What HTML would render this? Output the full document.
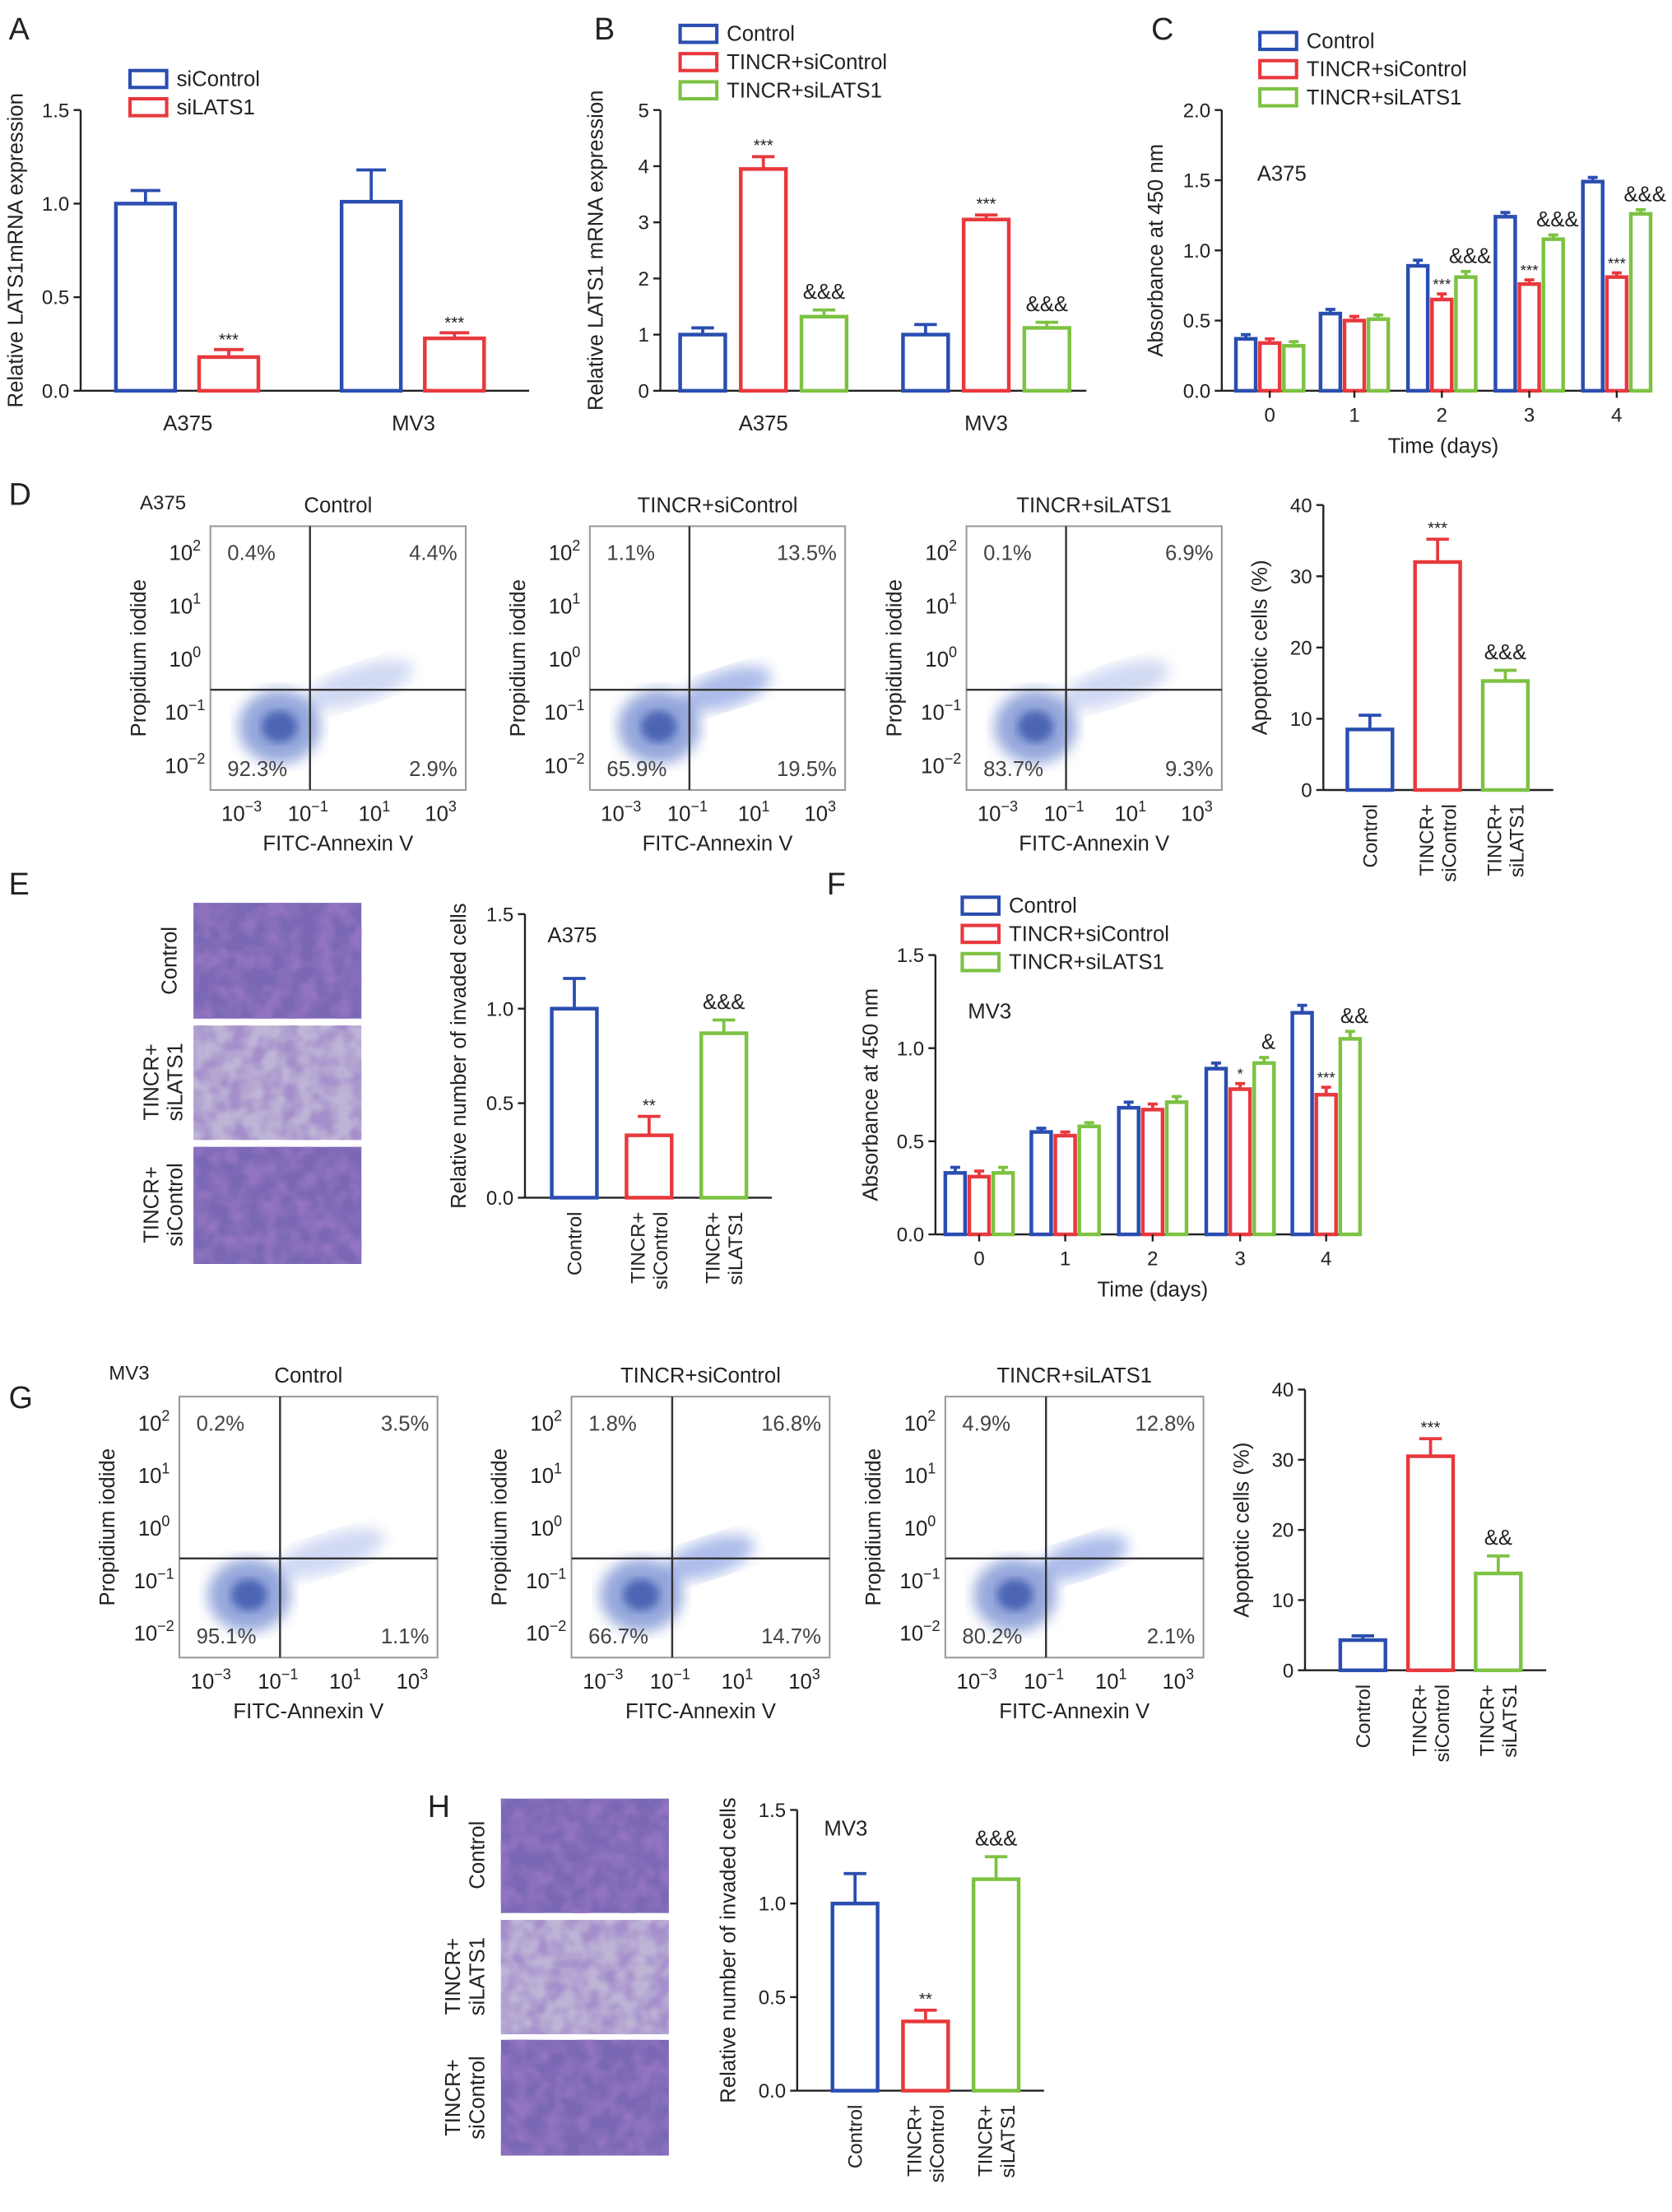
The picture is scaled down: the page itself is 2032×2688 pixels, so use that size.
<!DOCTYPE html>
<html><head><meta charset="utf-8">
<style>
html,body{margin:0;padding:0;background:#fff;}
svg{display:block;font-family:"Liberation Sans",Arial,sans-serif;}
</style></head>
<body>
<svg id="fig" width="2032" height="2688" viewBox="0 0 1185 1568" xmlns="http://www.w3.org/2000/svg">
<defs>
<filter id="blur3"><feGaussianBlur stdDeviation="5"/></filter>
<filter id="blur2"><feGaussianBlur stdDeviation="3"/></filter>
<filter id="tex" x="0" y="0" width="1" height="1"><feTurbulence type="fractalNoise" baseFrequency="0.08" numOctaves="2" seed="4"/><feColorMatrix values="0 0 0 0 0.3  0 0 0 0 0.18  0 0 0 0 0.55  0 0 0 -2.6 1.7"/></filter>
</defs>
<g id="root"></g>
</svg>
<script>
// ---- DATA ----
const colors = ["#2a4db0","#e8383d","#7dc242"];
const aCats = ["A375","MV3"];
const aSiControl = [1.0, 1.01];
const aSiControlErr = [0.07, 0.17];
const aSiLATS1 = [0.18, 0.28];
const aSiLATS1Err = [0.04, 0.03];
const aTicks = [0, 0.5, 1.0, 1.5];

const bCats = ["A375","MV3"];
const bControl = [1.0, 1.0];
const bControlErr = [0.12, 0.18];
const bTincrSiControl = [3.95, 3.05];
const bTincrSiControlErr = [0.22, 0.08];
const bTincrSiLATS1 = [1.32, 1.12];
const bTincrSiLATS1Err = [0.12, 0.1];
const bTicks = [0,1,2,3,4,5];

const cDays = ["0","1","2","3","4"];
const cControl = [0.37,0.55,0.89,1.24,1.49];
const cTincrSiControl = [0.34,0.5,0.65,0.76,0.81];
const cTincrSiLATS1 = [0.32,0.51,0.81,1.08,1.26];
const cErr = [0.03,0.03,0.04,0.03,0.03];
const cTicks = [0,0.5,1.0,1.5,2.0];

const dApoptotic = [8.5, 32, 15.3];
const dApoptoticErr = [2, 3.2, 1.5];
const dTicks = [0,10,20,30,40];

const eInvaded = [1.0, 0.33, 0.87];
const eInvadedErr = [0.16, 0.1, 0.07];
const eTicks = [0,0.5,1.0,1.5];

const fDays = ["0","1","2","3","4"];
const fControl = [0.33,0.55,0.68,0.89,1.19];
const fTincrSiControl = [0.31,0.53,0.67,0.78,0.75];
const fTincrSiLATS1 = [0.33,0.58,0.71,0.92,1.05];
const fErr = [0.03,0.02,0.03,0.03,0.04];
const fTicks = [0,0.5,1.0,1.5];

const gApoptotic = [4.3, 30.5, 13.8];
const gApoptoticErr = [0.6, 2.5, 2.5];
const gTicks = [0,10,20,30,40];

const hInvaded = [1.0, 0.37, 1.13];
const hInvadedErr = [0.16, 0.06, 0.12];
const hTicks = [0,0.5,1.0,1.5];

const flowD = [["0.4%","4.4%","92.3%","2.9%"],["1.1%","13.5%","65.9%","19.5%"],["0.1%","6.9%","83.7%","9.3%"]];
const flowG = [["0.2%","3.5%","95.1%","1.1%"],["1.8%","16.8%","66.7%","14.7%"],["4.9%","12.8%","80.2%","2.1%"]];
const groupNames = ["Control","TINCR+siControl","TINCR+siLATS1"];

// ---- HELPERS ----
const NS="http://www.w3.org/2000/svg";
const root=document.getElementById('root');
function el(tag,attrs,parent,text){const e=document.createElementNS(NS,tag);for(const k in attrs)e.setAttribute(k,attrs[k]);if(text!==undefined)e.textContent=text;(parent||root).appendChild(e);return e;}
function txt(x,y,s,size,name,anchor,parent,extra){const t=el('text',Object.assign({x:x,y:y,'font-size':size,'text-anchor':anchor||'middle',fill:'#222'},extra||{}),parent,s);


return t;}
function supText(x,y,base,exp,size,name,parent){const t=el('text',{x:x,y:y,'font-size':size,'text-anchor':'middle',fill:'#222'},parent);


el('tspan',{},t,base);el('tspan',{dy:-size*0.45,'font-size':size*0.7},t,exp);return t;}

function axisY(g,x,y0,y1,vmax,ticks,fmt,label,labelX){
  const sc=v=>y0-(v/vmax)*(y0-y1);
  const ax=el('line',{x1:x,y1:y0,x2:x,y2:sc(ticks[ticks.length-1]),stroke:'#222','stroke-width':1.4},g);
  
  
  ticks.forEach(v=>{el('line',{x1:x-5,x2:x,y1:sc(v),y2:sc(v),stroke:'#222','stroke-width':1.4},g);
    txt(x-8,sc(v)+5,fmt(v),14,'y-tick-label','end',g);});
  txt(0,0,label,15,'y-axis-title','middle',g,{transform:`translate(${labelX},${(y0+sc(ticks[ticks.length-1]))/2}) rotate(-90)`});
  return sc;
}
function bar(g,x,w,y0,ytop,err,sc,color,name){
  const r=el('rect',{x:x,y:ytop,width:w,height:y0-ytop,fill:'#fff',stroke:color,'stroke-width':2.6},g);
  
  
  const ye=ytop-err;
  el('line',{x1:x+w/2,x2:x+w/2,y1:ytop,y2:ye,stroke:color,'stroke-width':2.2},g);
  el('line',{x1:x+w/2-w*0.25,x2:x+w/2+w*0.25,y1:ye,y2:ye,stroke:color,'stroke-width':2.2},g);
  return ye;
}
function legend(g,x,y,items,size){
  items.forEach((s,i)=>{const r=el('rect',{x:x,y:y+i*20-11,width:26,height:12,fill:'#fff',stroke:colors[i],'stroke-width':2.4},g);
    
    
    txt(x+33,y+i*20,s,size||15,'legend-entry','start',g);});
}
function panelLabel(x,y,s){txt(x,y,s,22,'panel-label-'+s.toLowerCase(),'start');}
const fmt1=v=>v.toFixed(1), fmt0=v=>String(v);

// ---- PANEL A ----
panelLabel(6,28,"A");
(function(){
  const g=el('g',{});
  const y0=277,sc=axisY(g,57,y0,78,1.5,aTicks,fmt1,"Relative LATS1mRNA expression",16);
  el('line',{x1:57,x2:375,y1:y0,y2:y0,stroke:'#222','stroke-width':1.4},g);
  const gx=[82,242];
  aCats.forEach((c,i)=>{
    bar(g,gx[i],42,y0,sc(aSiControl[i]),sc(0)-sc(aSiControlErr[i]),sc,colors[0],'bar-sicontrol-'+c);
    const ye=bar(g,gx[i]+59,42,y0,sc(aSiLATS1[i]),sc(0)-sc(aSiLATS1Err[i]),sc,colors[1],'bar-silats1-'+c);
    txt(gx[i]+80,ye-3,"***",12,'significance-mark','middle',g);
    txt(gx[i]+51,305,c,15,'x-tick-label','middle',g);
  });
  legend(g,92,61,["siControl","siLATS1"]);
})();

// ---- PANEL B ----
panelLabel(421,28,"B");
(function(){
  const g=el('g',{});
  const y0=277,sc=axisY(g,468,y0,78,5,bTicks,fmt0,"Relative LATS1 mRNA expression",427);
  el('line',{x1:468,x2:770,y1:y0,y2:y0,stroke:'#222','stroke-width':1.4},g);
  const gx=[482,640];
  bCats.forEach((c,i)=>{
    const series=[[bControl,bControlErr],[bTincrSiControl,bTincrSiControlErr],[bTincrSiLATS1,bTincrSiLATS1Err]];
    series.forEach((s,k)=>{
      const ye=bar(g,gx[i]+k*43,32,y0,sc(s[0][i]),y0-sc(s[1][i]),sc,colors[k],'bar-'+k+'-'+c);
      if(k==1)txt(gx[i]+k*43+16,ye-4,"***",12,'significance-mark','middle',g);
      if(k==2)txt(gx[i]+k*43+16,ye-8,"&&&",15,'significance-mark','middle',g);
    });
    txt(gx[i]+59,305,c,15,'x-tick-label','middle',g);
  });
  legend(g,482,29,["Control","TINCR+siControl","TINCR+siLATS1"]);
})();

// ---- grouped-by-day chart (C, F) ----
function dayChart(name,ax,y0,ytop,vmax,ticks,centers,series,err,marks,title,lx,ly,axEnd,labX){
  const g=el('g',{});
  const sc=axisY(g,ax,y0,ytop,vmax,ticks,fmt1,"Absorbance at 450 nm",labX);
  el('line',{x1:ax,x2:axEnd,y1:y0,y2:y0,stroke:'#222','stroke-width':1.4},g);
  centers.forEach((cx,i)=>{
    series.forEach((s,k)=>{
      const x=cx-24+k*17;
      const ye=bar(g,x,14,y0,sc(s[i]),y0-sc(err[i]),sc,colors[k],'bar-day'+i+'-'+k);
      const m=marks[k][i];
      if(m){ if(k==1) txt(x+7,ye-3,m,11,'significance-mark','middle',g);
             else txt(x+10,ye-6,m,15,'significance-mark','middle',g);}
    });
    el('line',{x1:cx,x2:cx,y1:y0,y2:y0+5,stroke:'#222','stroke-width':1.4},g);
    txt(cx,y0+22,String(i),14,'x-tick-label','middle',g);
  });
  txt((centers[0]+centers[centers.length-1])/2,y0+44,"Time (days)",15,'x-axis-title','middle',g);
  txt(lx,ly,title,15,'cell-line-label','start',g);
  return g;
}
panelLabel(816,28,"C");
(function(){
  const g=dayChart('panel-c-chart',866,277,78,2.0,cTicks,[900,960,1022,1084,1146],[cControl,cTincrSiControl,cTincrSiLATS1],cErr,
    [[0,0,0,0,0],["","","***","***","***"],["","","&&&","&&&","&&&"]],"A375",891,128,1170,824);
  legend(g,893,34,["Control","TINCR+siControl","TINCR+siLATS1"]);
})();
panelLabel(586,634,"F");
(function(){
  const g=dayChart('panel-f-chart',663,875,677,1.5,fTicks,[694,755,817,879,940],[fControl,fTincrSiControl,fTincrSiLATS1],fErr,
    [[0,0,0,0,0],["","","","*","***"],["","","","&","&&"]],"MV3",686,722,962,622);
  legend(g,682,647,["Control","TINCR+siControl","TINCR+siLATS1"]);
})();

// ---- small 3-bar chart (D, E, G, H) ----
function triChart(name,ax,y0,ytop,vmax,ticks,fmt,vals,errs,marks,ylabel,labX,x0,step,title,tx,ty){
  const g=el('g',{});
  const sc=axisY(g,ax,y0,ytop,vmax,ticks,fmt,ylabel,labX);
  el('line',{x1:ax,x2:x0+2*step+50,y1:y0,y2:y0,stroke:'#222','stroke-width':1.4},g);
  vals.forEach((v,i)=>{
    const x=x0+i*step;
    const ye=bar(g,x,32,y0,sc(v),y0-sc(errs[i]),sc,colors[i],'bar-'+groupNames[i].toLowerCase().replace('+','-'));
    if(marks[i]){ if(i==1) txt(x+16,ye-4,marks[i],12,'significance-mark','middle',g);
      else txt(x+16,ye-8,marks[i],15,'significance-mark','middle',g);}
    const cx=x+16;
    const lines=i==0?["Control"]:["TINCR+",i==1?"siControl":"siLATS1"];
    lines.forEach((s,j)=>{
      const off=(j-(lines.length-1)/2)*16;
      txt(0,0,s,14,'x-tick-label','end',g,{transform:`translate(${cx+5+off},${y0+10}) rotate(-90)`});
    });
  });
  if(title) txt(tx,ty,title,15,'cell-line-label','start',g);
}
panelLabel(6,358,"D");
triChart('panel-d-chart',938,560,358,40,dTicks,fmt0,dApoptotic,dApoptoticErr,["","***","&&&"],"Apoptotic cells (%)",898,955,48);
panelLabel(6,634,"E");
triChart('panel-e-chart',372,849,648,1.5,eTicks,fmt1,eInvaded,eInvadedErr,["","**","&&&"],"Relative number of invaded cells",330,391,53,"A375",388,668);
panelLabel(6,998,"G");
triChart('panel-g-chart',925,1184,985,40,gTicks,fmt0,gApoptotic,gApoptoticErr,["","***","&&"],"Apoptotic cells (%)",885,950,48);
panelLabel(303,1288,"H");
triChart('panel-h-chart',565,1482,1283,1.5,hTicks,fmt1,hInvaded,hInvadedErr,["","**","&&&"],"Relative number of invaded cells",521,590,50,"MV3",584,1301);

// ---- FLOW PLOTS ----
function flow(name,bx,by,bw,bh,title,pcts,cell,tight){
  const g=el('g',{});
  const vx=bx+bw*0.39, hy=by+bh*0.62;
  el('ellipse',{cx:vx-bw*0.12,cy:hy+bh*0.14,rx:bw*0.16,ry:bh*0.14,fill:'#2a50b8',opacity:0.5,filter:'url(#blur3)'},g);
  el('ellipse',{cx:vx-bw*0.12,cy:hy+bh*0.14,rx:bw*0.07,ry:bh*0.06,fill:'#1a3a9a',opacity:0.6,filter:'url(#blur2)'},g);
  el('ellipse',{cx:vx+bw*(tight?0.15:0.2),cy:hy-bh*0.02,rx:bw*(tight?0.18:0.22),ry:bh*0.07,fill:'#4a6ad0',opacity:tight?0.45:0.25,filter:'url(#blur3)',transform:`rotate(-18 ${vx+bw*0.2} ${hy})`},g);
  const box=el('rect',{x:bx,y:by,width:bw,height:bh,fill:'none',stroke:'#999','stroke-width':1.2},g);
  
  el('line',{x1:vx,x2:vx,y1:by,y2:by+bh,stroke:'#333','stroke-width':1.4},g);
  el('line',{x1:bx,x2:bx+bw,y1:hy,y2:hy,stroke:'#333','stroke-width':1.4},g);
  txt(bx+bw*0.5,by-10,title,15,'flow-plot-title','middle',g);
  txt(bx+12,by+24,pcts[0],15,'quadrant-percent','start',g,{fill:'#444'});
  txt(bx+bw-6,by+24,pcts[1],15,'quadrant-percent','end',g,{fill:'#444'});
  txt(bx+12,by+bh-10,pcts[2],15,'quadrant-percent','start',g,{fill:'#444'});
  txt(bx+bw-6,by+bh-10,pcts[3],15,'quadrant-percent','end',g,{fill:'#444'});
  const ye=["2","1","0","−1","−2"];
  ye.forEach((e,i)=>supText(bx-18,by+18+i*(bh-36)/4+6,"10",e,15,'y-tick-label',g));
  const xe=["−3","−1","1","3"];
  xe.forEach((e,i)=>supText(bx+bw*0.1+i*bw*0.26+4,by+bh+22,"10",e,15,'x-tick-label',g));
  txt(bx+bw*0.5,by+bh+43,"FITC-Annexin V",15,'x-axis-title','middle',g);
  txt(0,0,"Propidium iodide",15,'y-axis-title','middle',g,{transform:`translate(${bx-46},${by+bh/2}) rotate(-90)`});
  if(cell) txt(bx-50,by-12,cell,14,'cell-line-label','start',g);
}
const dx=[149,418,685];
dx.forEach((x,i)=>flow('flow-d-'+i,x,373,181,187,groupNames[i],flowD[i],i==0?"A375":"",i==1));
const gx=[127,405,670];
gx.forEach((x,i)=>flow('flow-g-'+i,x,990,183,185,groupNames[i],flowG[i],i==0?"MV3":"",i>0));

// ---- MICROGRAPHS ----
function micro(name,x,y,w,h,dense){
  const g=el('g',{});
  el('rect',{x:x,y:y,width:w,height:h,fill:dense?'#7a68b4':'#bdb4d6'},g);
  el('rect',{x:x,y:y,width:w,height:h,filter:'url(#tex)',opacity:dense?0.9:0.6},g);
}
micro('micrograph-e-control',137,640,119,82,true);
micro('micrograph-e-tincr-silats1',137,727,119,81,false);
micro('micrograph-e-tincr-sicontrol',137,813,119,83,true);
txt(0,0,"Control",15,'image-label','middle',root,{transform:'translate(125,681) rotate(-90)'});
txt(0,0,"TINCR+",15,'image-label','middle',root,{transform:'translate(112,767) rotate(-90)'});
txt(0,0,"siLATS1",15,'image-label','middle',root,{transform:'translate(129,767) rotate(-90)'});
txt(0,0,"TINCR+",15,'image-label','middle',root,{transform:'translate(112,854) rotate(-90)'});
txt(0,0,"siControl",15,'image-label','middle',root,{transform:'translate(129,854) rotate(-90)'});
micro('micrograph-h-control',355,1275,119,81,true);
micro('micrograph-h-tincr-silats1',355,1361,119,81,false);
micro('micrograph-h-tincr-sicontrol',355,1446,119,82,true);
txt(0,0,"Control",15,'image-label','middle',root,{transform:'translate(343,1315) rotate(-90)'});
txt(0,0,"TINCR+",15,'image-label','middle',root,{transform:'translate(326,1401) rotate(-90)'});
txt(0,0,"siLATS1",15,'image-label','middle',root,{transform:'translate(343,1401) rotate(-90)'});
txt(0,0,"TINCR+",15,'image-label','middle',root,{transform:'translate(326,1487) rotate(-90)'});
txt(0,0,"siControl",15,'image-label','middle',root,{transform:'translate(343,1487) rotate(-90)'});
</script>
</body></html>
